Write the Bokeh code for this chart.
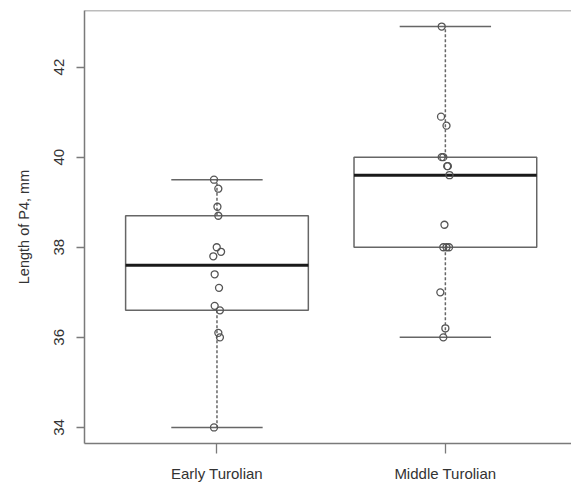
import numpy as np
from bokeh.plotting import figure
from bokeh.models import FixedTicker, Span, ColumnDataSource, Range1d
from bokeh.embed import file_html
from bokeh.resources import INLINE

categories = ["Early Turolian", "Middle Turolian"]
early = [39.5, 39.3, 38.9, 38.7, 38.0, 37.9, 37.8, 37.4, 37.1, 36.7, 36.6, 36.1, 36.0, 34.0]
early_jitter = [-0.013, 0.006, 0.002, 0.006, -0.001, 0.018, -0.016, -0.010, 0.009, -0.010, 0.013, 0.006, 0.013, -0.013]
middle = [42.9, 40.9, 40.7, 40.0, 40.0, 39.8, 39.8, 39.6, 38.5, 38.0, 38.0, 38.0, 37.0, 36.2, 36.0]
middle_jitter = [-0.016, -0.019, 0.005, -0.016, -0.009, 0.008, 0.011, 0.018, -0.004, -0.009, 0.005, 0.016, -0.022, 0.0, -0.009]
y_ticks = [34, 36, 38, 40, 42]
y_label = "Length of P4, mm"

groups = [early, middle]
jitters = [early_jitter, middle_jitter]


def fivenum(v):
    x = np.sort(np.asarray(v, dtype=float))
    n = len(x)
    n4 = np.floor((n + 3) / 2) / 2
    d = np.array([1, n4, (n + 1) / 2, n + 1 - n4, n]) - 1
    return 0.5 * (x[np.floor(d).astype(int)] + x[np.ceil(d).astype(int)])


allv = early + middle
lo, hi = min(allv), max(allv)
pad = (hi - lo) * 0.04

FONT = "Liberation Sans"
GRAY = "#666666"

W, H = 571, 484
LEFT, TOP, BOTTOM = 84, 10, 41

p = figure(width=W, height=H, output_backend="svg", toolbar_location=None,
           x_range=Range1d(0.42, 0.42 + (W - LEFT) / 228.4),
           y_range=Range1d(lo - pad, hi + pad),
           min_border_left=LEFT, min_border_top=TOP, min_border_right=0, min_border_bottom=BOTTOM)
p.outline_line_color = None
p.grid.visible = False
p.background_fill_color = "white"

xs, x0s, x1s, q1s, q3s, meds, wlo, whi = [], [], [], [], [], [], [], []
for i, g in enumerate(groups):
    f = fivenum(g)
    iqr = f[3] - f[1]
    lower = min(v for v in g if v >= f[1] - 1.5 * iqr)
    upper = max(v for v in g if v <= f[3] + 1.5 * iqr)
    c = i + 1
    xs.append(c); x0s.append(c - 0.4); x1s.append(c + 0.4)
    q1s.append(f[1]); q3s.append(f[3]); meds.append(f[2])
    wlo.append(lower); whi.append(upper)

src = ColumnDataSource(dict(x=xs, x0=x0s, x1=x1s, q1=q1s, q3=q3s, med=meds,
                            wlo=wlo, whi=whi,
                            c0=[x - 0.2 for x in xs], c1=[x + 0.2 for x in xs]))

# whiskers (dashed)
p.segment(x0="x", y0="q3", x1="x", y1="whi", source=src, line_color=GRAY, line_width=1.5, line_dash="3 2")
p.segment(x0="x", y0="q1", x1="x", y1="wlo", source=src, line_color=GRAY, line_width=1.5, line_dash="3 2")
# caps
p.segment(x0="c0", y0="whi", x1="c1", y1="whi", source=src, line_color=GRAY, line_width=1.5)
p.segment(x0="c0", y0="wlo", x1="c1", y1="wlo", source=src, line_color=GRAY, line_width=1.5)
# boxes
p.quad(left="x0", right="x1", bottom="q1", top="q3", source=src,
       fill_color=None, line_color=GRAY, line_width=1.5)
# medians
p.segment(x0="x0", y0="med", x1="x1", y1="med", source=src, line_color="#1a1a1a", line_width=3)

# points
px, py = [], []
for i, (g, j) in enumerate(zip(groups, jitters)):
    for v, d in zip(g, j):
        px.append(i + 1 + d)
        py.append(v)
p.scatter(px, py, size=7, marker="circle", fill_color=None, line_color="#555555", line_width=1.3)

# top border line
p.add_layout(Span(location=hi + pad, dimension="width", line_color="#7a7a7a", line_width=1.5))

# axes
for ax in (p.xaxis[0], p.yaxis[0]):
    ax.axis_line_color = "#7a7a7a"
    ax.axis_line_width = 1.5
    ax.major_tick_line_color = "#7a7a7a"
    ax.major_tick_line_width = 1.3
    ax.minor_tick_line_color = None
    ax.major_tick_in = 0
    ax.major_label_text_font = FONT
    ax.major_label_text_font_size = "15px"
    ax.major_label_text_color = "#333333"

p.yaxis.ticker = FixedTicker(ticks=y_ticks)
p.yaxis.major_tick_out = 8
p.yaxis.major_label_orientation = "vertical"
p.yaxis.major_label_standoff = 12
p.yaxis.axis_label = y_label
p.yaxis.axis_label_text_font = FONT
p.yaxis.axis_label_text_font_size = "14.5px"
p.yaxis.axis_label_text_font_style = "normal"
p.yaxis.axis_label_text_color = "#333333"
p.yaxis.axis_label_standoff = 20

p.xaxis.ticker = FixedTicker(ticks=[1, 2])
p.xaxis.major_label_overrides = {1: categories[0], 2: categories[1]}
p.xaxis.major_tick_out = 10
p.xaxis.major_label_standoff = 11

open("out.html", "w").write(file_html(p, INLINE))
